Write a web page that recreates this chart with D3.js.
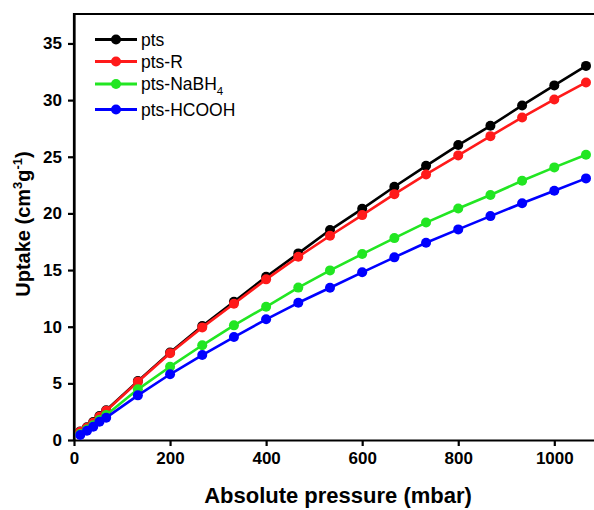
<!DOCTYPE html>
<html>
<head>
<meta charset="utf-8">
<script src="https://cdn.jsdelivr.net/npm/d3@7"></script>
<style>
  html, body { margin: 0; padding: 0; background: #fff; }
  svg { display: block; font-family: "Liberation Sans", Arial, sans-serif; }
</style>
</head>
<body>
<svg id="chart" width="594" height="510"></svg>
<script>
const pressure = [13, 27, 40, 53, 67, 133, 200, 267, 333, 400, 467, 533, 600, 667, 733, 800, 867, 933, 1000, 1066];
const pts      = [0.76, 1.13, 1.58, 2.11, 2.63, 5.20, 7.72, 10.06, 12.20, 14.41, 16.47, 18.53, 20.40, 22.35, 24.20, 26.03, 27.73, 29.53, 31.30, 33.02];
const ptsR     = [0.73, 1.09, 1.53, 2.06, 2.58, 5.14, 7.65, 9.94, 12.03, 14.18, 16.17, 18.03, 19.85, 21.70, 23.44, 25.12, 26.82, 28.47, 30.06, 31.56];
const ptsNaBH4 = [0.52, 0.92, 1.30, 1.76, 2.20, 4.47, 6.47, 8.36, 10.12, 11.76, 13.45, 14.97, 16.41, 17.82, 19.19, 20.43, 21.62, 22.88, 24.06, 25.17];
const ptsHCOOH = [0.44, 0.82, 1.17, 1.61, 1.97, 3.94, 5.80, 7.50, 9.09, 10.65, 12.11, 13.44, 14.80, 16.12, 17.41, 18.59, 19.76, 20.89, 22.00, 23.09];
const seriesNames = ["pts", "pts-R", "pts-NaBH4", "pts-HCOOH"];
const seriesColors = ["#000000", "#ff1a1a", "#22e622", "#0000ff"];
const xTicks = [0, 200, 400, 600, 800, 1000];
const yTicks = [0, 5, 10, 15, 20, 25, 30, 35];

const seriesValues = [pts, ptsR, ptsNaBH4, ptsHCOOH];

const svg = d3.select("#chart");
const mLeft = 74, mTop = 14, mBottom = 440;
const x = d3.scaleLinear().domain([0, 1100]).range([mLeft, mLeft + 1100 * 0.4803]);
const y = d3.scaleLinear().domain([0, 37.6]).range([mBottom, mTop]);

// Axes
const xAxis = d3.axisBottom(x).tickValues(xTicks).tickFormat(d3.format("d")).tickSize(6).tickSizeOuter(0).tickPadding(6);
const yAxis = d3.axisLeft(y).tickValues(yTicks).tickFormat(d3.format("d")).tickSize(6).tickSizeOuter(0).tickPadding(6);

const gx = svg.append("g").attr("transform", `translate(0,${mBottom})`).call(xAxis);
const gy = svg.append("g").attr("transform", `translate(${mLeft},0)`).call(yAxis);
[gx, gy].forEach(g => {
  g.select(".domain").attr("stroke", "#000").attr("stroke-width", 2.2);
  g.selectAll(".tick line").attr("stroke", "#000").attr("stroke-width", 2.2);
  g.selectAll(".tick text").attr("fill", "#000").style("font-size", "17px").style("font-weight", "bold")
    .style("font-family", "'Liberation Sans', Arial, sans-serif");
});
// top frame
svg.append("line").attr("x1", mLeft).attr("x2", x(1100)).attr("y1", mTop).attr("y2", mTop)
  .attr("stroke", "#000").attr("stroke-width", 2.2);
svg.append("line").attr("x1", mLeft).attr("x2", mLeft).attr("y1", mTop - 1).attr("y2", mBottom + 1)
  .attr("stroke", "#000").attr("stroke-width", 2.2);

// Series
const line = d3.line().x(d => x(d[0])).y(d => y(d[1]));
seriesValues.forEach((vals, i) => {
  const data = pressure.map((p, k) => [p, vals[k]]);
  const g = svg.append("g");
  g.append("path").datum(data).attr("d", line).attr("fill", "none")
    .attr("stroke", seriesColors[i]).attr("stroke-width", 2.6).attr("stroke-linejoin", "round");
  g.selectAll("circle").data(data).join("circle")
    .attr("cx", d => x(d[0])).attr("cy", d => y(d[1])).attr("r", 5)
    .attr("fill", seriesColors[i]);
});

// Legend
const legendY = [39.5, 61.5, 84, 109.5];
const lg = svg.append("g");
seriesNames.forEach((name, i) => {
  const yy = legendY[i];
  lg.append("line").attr("x1", 95).attr("x2", 137).attr("y1", yy).attr("y2", yy)
    .attr("stroke", seriesColors[i]).attr("stroke-width", 2.8);
  lg.append("circle").attr("cx", 116).attr("cy", yy).attr("r", 5).attr("fill", seriesColors[i]);
  const t = lg.append("text").attr("x", 141).attr("y", yy + 6.3)
    .style("font-size", "17.5px").attr("fill", "#000");
  if (name === "pts-NaBH4") {
    t.append("tspan").text("pts-NaBH");
    t.append("tspan").text("4").style("font-size", "11.5px").attr("dy", 5);
  } else {
    t.text(name);
  }
});

// Axis titles
svg.append("text").attr("x", 338).attr("y", 503).attr("text-anchor", "middle")
  .style("font-size", "22px").style("font-weight", "bold").attr("fill", "#000")
  .text("Absolute pressure (mbar)");

const yt = svg.append("text").attr("transform", "translate(30,224) rotate(-90)")
  .attr("text-anchor", "middle").style("font-size", "20px").style("font-weight", "bold").attr("fill", "#000");
yt.append("tspan").text("Uptake (cm");
yt.append("tspan").text("3").style("font-size", "13px").attr("dy", -8);
yt.append("tspan").text("g").attr("dy", 8);
yt.append("tspan").text("-1").style("font-size", "13px").attr("dy", -8);
yt.append("tspan").text(")").attr("dy", 8);
</script>
</body>
</html>
